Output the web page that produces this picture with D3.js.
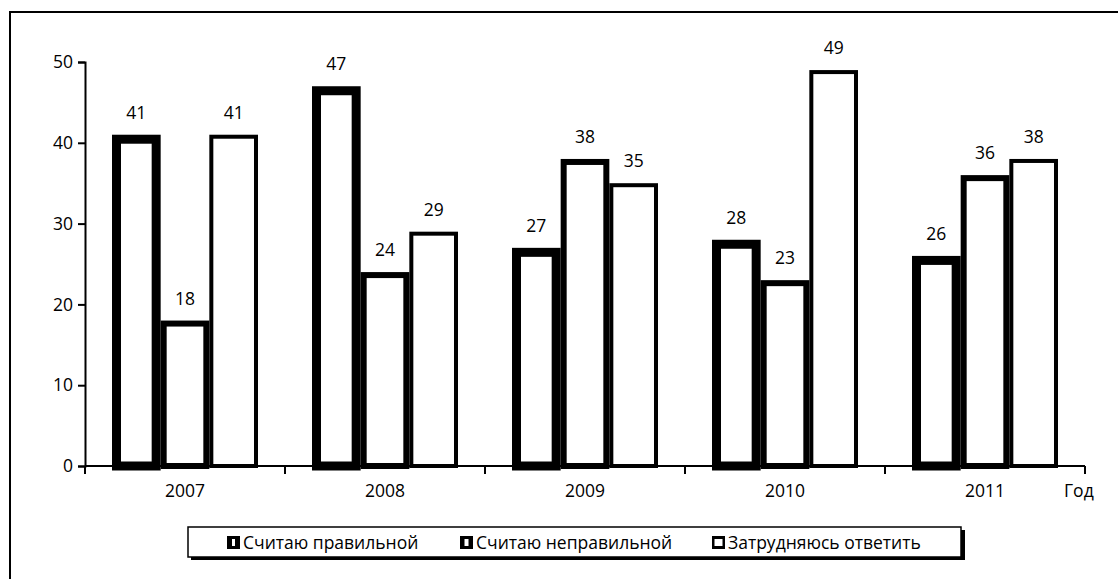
<!DOCTYPE html>
<html>
<head>
<meta charset="utf-8">
<script src="https://cdn.jsdelivr.net/npm/d3@7"></script>
<style>
  body { margin: 0; background: #fff; }
  text { font-family: "Open Sans", "Noto Sans", sans-serif; fill: #000; }
</style>
</head>
<body>
<div id="chart"></div>
<script>
// data
var years = ["2007", "2008", "2009", "2010", "2011"];
var series = ["Считаю правильной", "Считаю неправильной", "Затрудняюсь ответить"];
var rightVals = [41, 47, 27, 28, 26];
var wrongVals = [18, 24, 38, 23, 36];
var hardVals  = [41, 29, 35, 49, 38];
var yTicks = [0, 10, 20, 30, 40, 50];

var width = 1118, height = 579;
var fs = "17.5px";
var svg = d3.select("#chart").append("svg").attr("width", width).attr("height", height);

// outer frame (runs off the right and bottom edge)
svg.append("rect").attr("x", 10).attr("y", 12).attr("width", 1120).attr("height", 600)
  .attr("fill", "#fff").attr("stroke", "#000").attr("stroke-width", 2);

var x = d3.scaleBand().domain(years).range([85, 1085]);
var xs = d3.scaleBand().domain(series).range([27, 173]);
var y = d3.scaleLinear().domain([0, 50]).range([466, 62]);

var cols = [rightVals, wrongVals, hardVals];
var strokes = [9, 6, 4];
var rows = [];
years.forEach(function(yr, i) {
  series.forEach(function(s, j) {
    rows.push({ year: yr, s: s, j: j, v: cols[j][i] });
  });
});

var g = svg.append("g");
g.selectAll("rect.bar").data(rows).enter().append("rect")
  .attr("class", "bar")
  .attr("x", function(d) { return x(d.year) + xs(d.s) + strokes[d.j] / 2; })
  .attr("y", function(d) { return y(d.v) + strokes[d.j] / 2; })
  .attr("width", function(d) { return xs.bandwidth() - strokes[d.j]; })
  .attr("height", function(d) { return y(0) - y(d.v) - strokes[d.j] / 2; })
  .attr("fill", "#fff").attr("stroke", "#000")
  .attr("stroke-width", function(d) { return strokes[d.j]; });

g.selectAll("text.val").data(rows).enter().append("text")
  .attr("class", "val")
  .attr("x", function(d) { return x(d.year) + xs(d.s) + xs.bandwidth() / 2; })
  .attr("y", function(d) { return y(d.v) - 16; })
  .attr("text-anchor", "middle").style("font-size", fs)
  .text(function(d) { return d.v; });

// y axis
var yAxis = svg.append("g").attr("transform", "translate(85,0)")
  .call(d3.axisLeft(y).tickValues(yTicks).tickSize(7).tickPadding(5));
yAxis.select(".domain").attr("stroke-width", 2);
yAxis.selectAll(".tick line").attr("stroke-width", 2);
yAxis.selectAll("text").style("font-size", fs).style("font-family", "'Open Sans', sans-serif");

// x axis: line plus ticks at category boundaries
svg.append("line").attr("x1", 85).attr("x2", 1085).attr("y1", y(0)).attr("y2", y(0))
  .attr("stroke", "#000").attr("stroke-width", 2);
var bounds = years.map(function(d) { return x(d); }).concat([x.range()[1]]);
svg.selectAll("line.xt").data(bounds).enter().append("line")
  .attr("x1", function(d) { return d; }).attr("x2", function(d) { return d; })
  .attr("y1", y(0)).attr("y2", y(0) + 8)
  .attr("stroke", "#000").attr("stroke-width", 2);
svg.selectAll("text.yr").data(years).enter().append("text")
  .attr("x", function(d) { return x(d) + x.bandwidth() / 2; })
  .attr("y", 497).attr("text-anchor", "middle").style("font-size", fs)
  .text(function(d) { return d; });
svg.append("text").attr("x", 1064).attr("y", 497)
  .style("font-size", fs).text("Год");

// legend
var lg = svg.append("g");
lg.append("rect").attr("x", 191).attr("y", 530).attr("width", 774).attr("height", 30).attr("fill", "#000");
lg.append("rect").attr("x", 188).attr("y", 527).attr("width", 773).attr("height", 30)
  .attr("fill", "#fff").attr("stroke", "#000").attr("stroke-width", 1.5);
var lx = [227, 460, 712];
var slit = [3, 4, 8];
series.forEach(function(s, j) {
  lg.append("rect").attr("x", lx[j]).attr("y", 536).attr("width", 13).attr("height", 13).attr("fill", "#000");
  lg.append("rect").attr("x", lx[j] + 6.5 - slit[j] / 2).attr("y", 539).attr("width", slit[j]).attr("height", 7).attr("fill", "#fff");
  lg.append("text").attr("x", lx[j] + 16).attr("y", 549).style("font-size", fs).text(s);
});
</script>
</body>
</html>
